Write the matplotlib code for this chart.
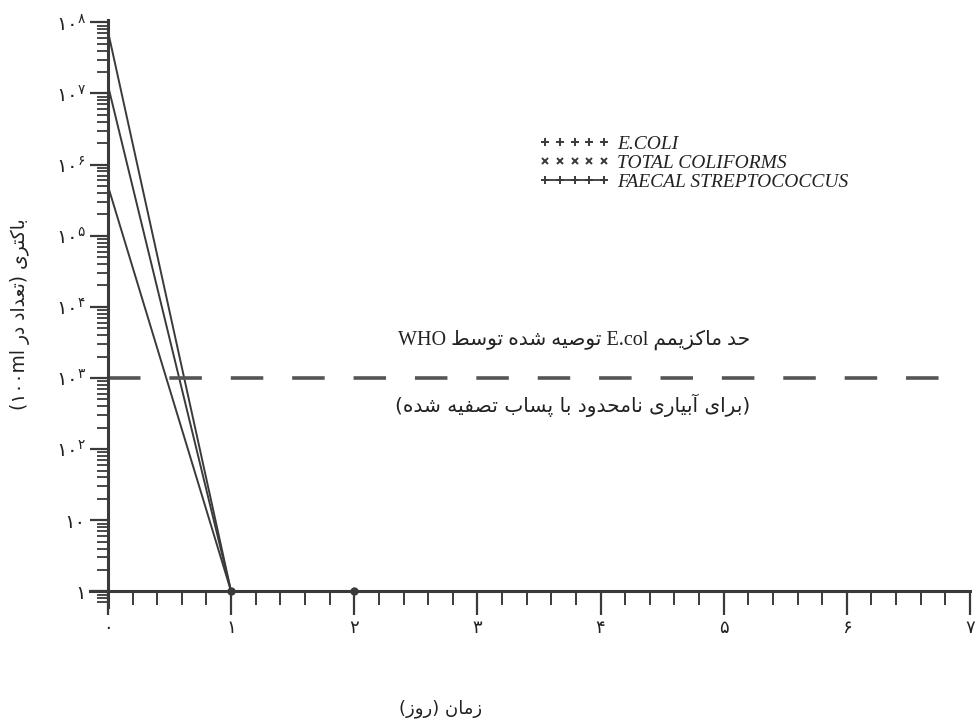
import matplotlib
matplotlib.use('Agg')
import matplotlib.pyplot as plt
from matplotlib.lines import Line2D
from matplotlib.ticker import FixedLocator, MultipleLocator, LogLocator, NullFormatter

# data
days = [0, 1, 2, 3, 4, 5, 6, 7]
total_coliforms = [7.5e7, 1, 1, 1, 1, 1, 1, 1]
e_coli = [1.3e7, 1, 1, 1, 1, 1, 1, 1]
faecal_strep = [5.0e5, 1, 1, 1, 1, 1, 1, 1]
who_limit = 1e3
series_names = ['E.COLI', 'TOTAL COLIFORMS', 'FAECAL STREPTOCOCCUS']
x_tick_labels = ['۰', '۱', '۲', '۳', '۴', '۵', '۶', '۷']
y_decades = [0, 1, 2, 3, 4, 5, 6, 7, 8]
fa_digits = '۰۱۲۳۴۵۶۷۸۹'

# small Persian shaper (matplotlib does no Arabic shaping / bidi)
FORMS = {
    'ا': ('\uFE8D', '\uFE8E'), 'آ': ('\uFE81', '\uFE82'),
    'د': ('\uFEA9', '\uFEAA'), 'ر': ('\uFEAD', '\uFEAE'),
    'ز': ('\uFEAF', '\uFEB0'), 'و': ('\uFEED', '\uFEEE'),
    'ب': ('\uFE8F', '\uFE90', '\uFE91', '\uFE92'),
    'ت': ('\uFE95', '\uFE96', '\uFE97', '\uFE98'),
    'ح': ('\uFEA1', '\uFEA2', '\uFEA3', '\uFEA4'),
    'س': ('\uFEB1', '\uFEB2', '\uFEB3', '\uFEB4'),
    'ش': ('\uFEB5', '\uFEB6', '\uFEB7', '\uFEB8'),
    'ص': ('\uFEB9', '\uFEBA', '\uFEBB', '\uFEBC'),
    'ط': ('\uFEC1', '\uFEC2', '\uFEC3', '\uFEC4'),
    'ع': ('\uFEC9', '\uFECA', '\uFECB', '\uFECC'),
    'ف': ('\uFED1', '\uFED2', '\uFED3', '\uFED4'),
    'م': ('\uFEE1', '\uFEE2', '\uFEE3', '\uFEE4'),
    'ن': ('\uFEE5', '\uFEE6', '\uFEE7', '\uFEE8'),
    'ه': ('\uFEE9', '\uFEEA', '\uFEEB', '\uFEEC'),
    'ی': ('\uFBFC', '\uFBFD', '\uFBFE', '\uFBFF'),
    'ک': ('\uFB8E', '\uFB8F', '\uFB90', '\uFB91'),
    'پ': ('\uFB56', '\uFB57', '\uFB58', '\uFB59'),
}
MIRROR = {'(': ')', ')': '('}


def is_ltr(c):
    return (c.isascii() and (c.isalnum() or c == '.')) or c in fa_digits


def fa(text):
    out = []
    for i, c in enumerate(text):
        if c not in FORMS:
            out.append(c)
            continue
        f = FORMS[c]
        prev_j = i > 0 and text[i - 1] in FORMS and len(FORMS[text[i - 1]]) == 4
        next_j = len(f) == 4 and i + 1 < len(text) and text[i + 1] in FORMS
        if prev_j and next_j:
            out.append(f[3])
        elif next_j:
            out.append(f[2])
        elif prev_j:
            out.append(f[1])
        else:
            out.append(f[0])
    rev = [MIRROR.get(c, c) for c in reversed(out)]
    # put left-to-right runs back in their own order
    res, run = [], []
    for c in rev:
        if is_ltr(c):
            run.append(c)
        else:
            res.extend(reversed(run))
            run = []
            res.append(c)
    res.extend(reversed(run))
    return ''.join(res)


def fa_num(n):
    return ''.join(fa_digits[int(d)] for d in str(n))


plt.rcParams['font.family'] = ['DejaVu Sans']
plt.rcParams['mathtext.fontset'] = 'dejavusans'

ink = '#3a3a3a'
fig = plt.figure(figsize=(9.78, 7.21), dpi=100)
ax = fig.add_axes([0.092, 0.158, 0.8998, 0.814])

ax.plot(days, total_coliforms, color=ink, lw=1.4)
ax.plot(days, e_coli, color=ink, lw=1.4)
ax.plot(days, faecal_strep, color=ink, lw=1.4, marker='o', ms=5, markevery=[1, 2])
ax.axhline(who_limit, xmin=0.0204, xmax=0.983, color='#555555', lw=2.6, dashes=(9, 8))

ax.set_yscale('log')
ax.set_xlim(-0.146, 7.0)
ax.set_ylim(10 ** -0.22, 10 ** 8.03)

for s in ['top', 'right']:
    ax.spines[s].set_visible(False)
ax.spines['left'].set_position(('data', 0))
ax.spines['bottom'].set_position(('data', 1))
for s in ['left', 'bottom']:
    ax.spines[s].set_linewidth(2.2)
    ax.spines[s].set_color(ink)

ax.xaxis.set_major_locator(FixedLocator(days))
ax.xaxis.set_minor_locator(MultipleLocator(0.2))
ax.set_xticklabels(x_tick_labels)

ax.yaxis.set_major_locator(FixedLocator([10.0 ** d for d in y_decades]))
ax.yaxis.set_minor_locator(LogLocator(base=10, subs=range(2, 10)))
ax.yaxis.set_minor_formatter(NullFormatter())
y_labels = []
for d in y_decades:
    if d == 0:
        y_labels.append('۱')
    elif d == 1:
        y_labels.append('۱۰')
    else:
        y_labels.append(r'$\mathregular{۱۰^{%s}}$' % fa_num(d))
ax.set_yticklabels(y_labels)

ax.tick_params(axis='x', which='major', length=17, width=1.6, color=ink,
               direction='out', pad=3, labelsize=13, labelcolor='#222222')
ax.tick_params(axis='x', which='minor', length=10, width=1.4, color=ink, direction='out')
ax.tick_params(axis='y', which='major', length=13, width=1.6, color=ink,
               direction='out', pad=3, labelsize=14, labelcolor='#222222')
ax.tick_params(axis='y', which='minor', length=8, width=1.3, color=ink, direction='out')

ax.set_xlabel(fa('زمان (روز)'), fontsize=13, color='#222222')
ax.xaxis.set_label_coords(0.398, -0.157)
ax.yaxis.set_label_coords(-0.068, 0.479)
ax.set_ylabel(fa('باکتری (تعداد در ۱۰۰ml)'), fontsize=13.5, color='#222222')

ax.text(0.55, 0.455, fa('حد ماکزیمم E.col توصیه شده توسط WHO'), transform=ax.transAxes,
        ha='center', va='center', fontsize=14.5, color='#222222',
        family=['Liberation Serif', 'DejaVu Sans'])
ax.text(0.548, 0.344, fa('(برای آبیاری نامحدود با پساب تصفیه شده)'), transform=ax.transAxes,
        ha='center', va='center', fontsize=14.5, color='#222222')

handles = [
    Line2D([], [], color=ink, ls='none', marker='+', ms=6, mew=1.4),
    Line2D([], [], color=ink, ls='none', marker='x', ms=5, mew=1.4),
    Line2D([], [], color=ink, ls='-', lw=1.3, marker='+', ms=6, mew=1.4),
]
leg = ax.legend(handles, series_names, loc='upper left', bbox_to_anchor=(0.491, 0.834),
                frameon=False, numpoints=5, handlelength=3.6, handletextpad=0.4,
                labelspacing=0.08, prop={'family': 'Liberation Serif', 'style': 'italic', 'size': 14})
for t in leg.get_texts():
    t.set_color('#222222')

fig.savefig('out.png', dpi=100, facecolor='white')
